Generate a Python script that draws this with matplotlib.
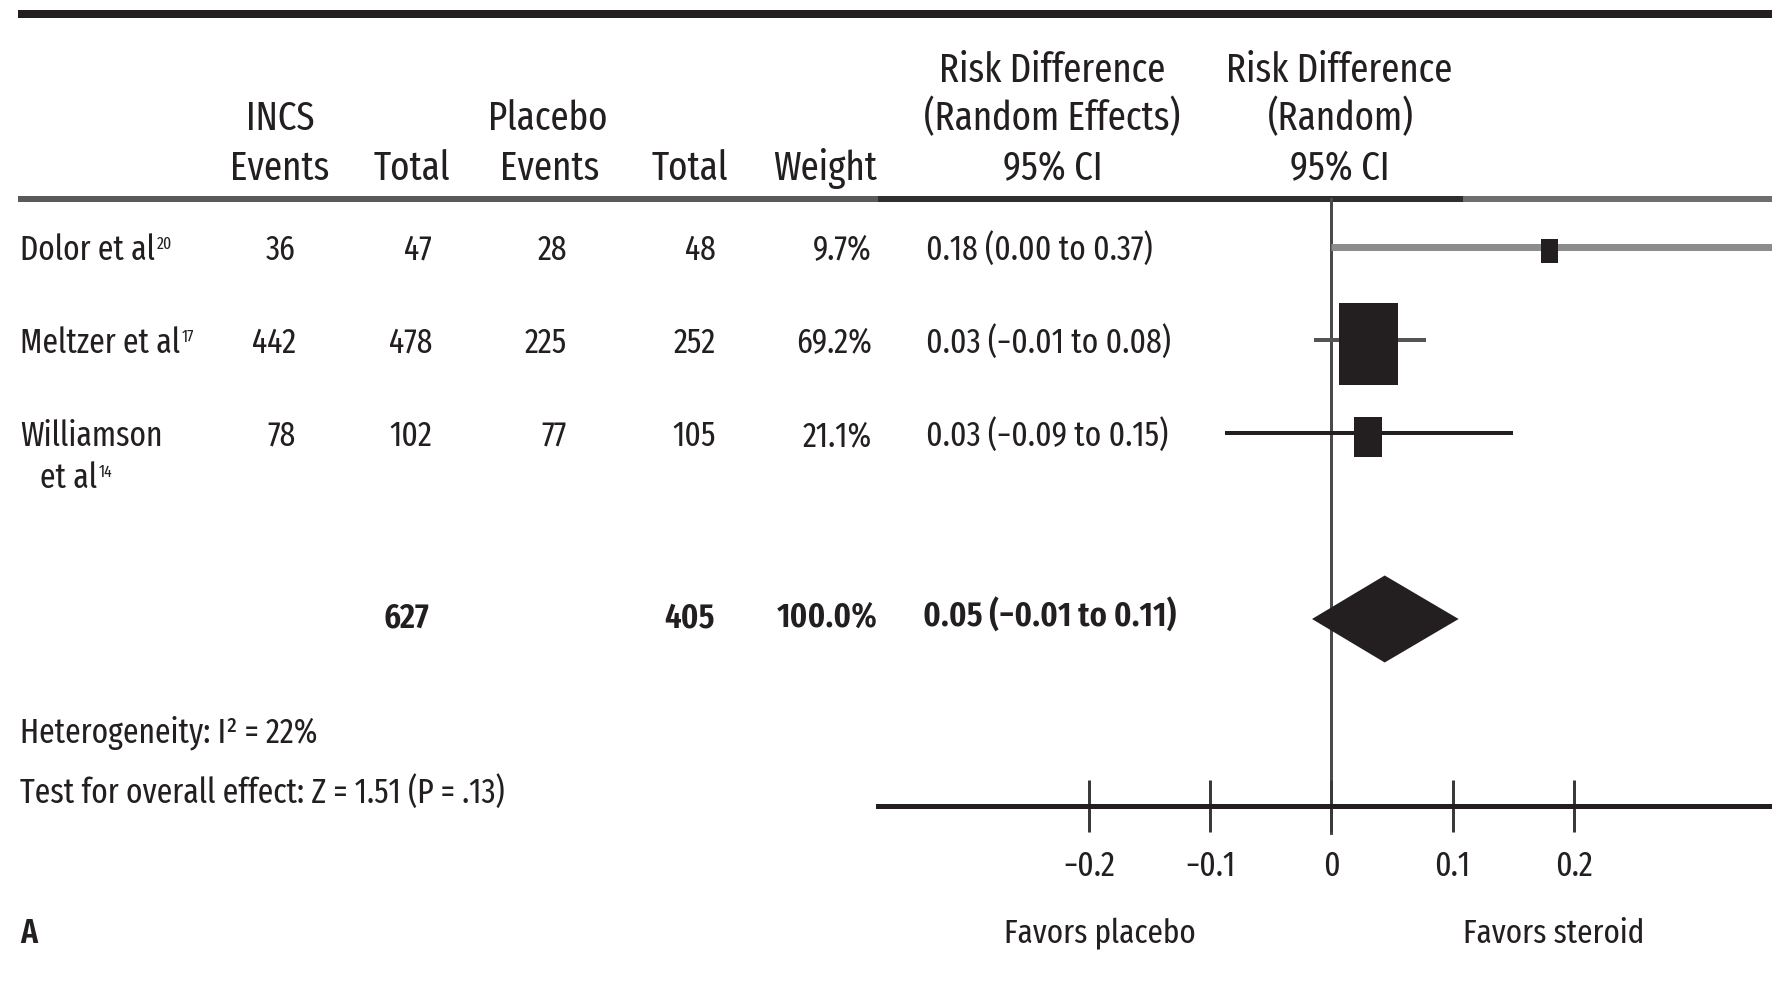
import matplotlib
matplotlib.use("Agg")
import matplotlib.pyplot as plt
from matplotlib.patches import Rectangle, Polygon
from matplotlib import font_manager

# ---------------- data ----------------
study_names = ["Dolor et al", "Meltzer et al", "Williamson"]
study_name_line2 = ["", "", "et al"]
study_refs = ["20", "17", "14"]
incs_events = [36, 442, 78]
incs_total = [47, 478, 102]
placebo_events = [28, 225, 77]
placebo_total = [48, 252, 105]
weights = [9.7, 69.2, 21.1]
rd = [0.18, 0.031, 0.03]
rd_low = [0.00, -0.014, -0.088]
rd_high = [0.37, 0.078, 0.15]
rd_labels = ["0.18 (0.00 to 0.37)", "0.03 (\u22120.01 to 0.08)", "0.03 (\u22120.09 to 0.15)"]
total_incs = 627
total_placebo = 405
total_weight = 100.0
pooled_rd = 0.044
pooled_low = -0.016
pooled_high = 0.105
pooled_label = "0.05 (\u22120.01 to 0.11)"
heterogeneity = "Heterogeneity: I\u00b2 = 22%"
overall_effect = "Test for overall effect: Z = 1.51 (P = .13)"
xticks = [-0.2, -0.1, 0, 0.1, 0.2]
xtick_labels = ["\u22120.2", "\u22120.1", "0", "0.1", "0.2"]
favors_left = "Favors placebo"
favors_right = "Favors steroid"
panel_label = "A"

# ---------------- fonts ----------------
avail = {f.name for f in font_manager.fontManager.ttflist}
base = "DejaVu Sans"
for cand in ["Fira Sans Extra Condensed", "Fira Sans Condensed", "Roboto Condensed",
             "Encode Sans Condensed", "Archivo Narrow", "Liberation Sans Narrow"]:
    if cand in avail:
        base = cand
        break
plt.rcParams["font.family"] = [base, "DejaVu Sans"]

DARK = "#231f20"
W, H = 1772, 987
PT = 0.72  # points per pixel at dpi=100

fig = plt.figure(figsize=(W / 100, H / 100), dpi=100)
renderer = fig.canvas.get_renderer()

def calibrate(s, target_px, weight="normal"):
    t = fig.text(0, 0, s, fontsize=30, fontweight=weight)
    w = t.get_window_extent(renderer).width
    t.remove()
    return 30 * target_px / w

LW = "normal"
BODY = (calibrate("0.18 (0.00 to 0.37)", 224, LW) + calibrate(overall_effect, 491, LW)
        + calibrate(heterogeneity, 296, LW)) / 3
HEAD = (calibrate("(Random Effects)", 254) + calibrate("Risk Difference", 224)
        + calibrate("Weight", 106)) / 3
FAV = (calibrate(favors_left, 191) + calibrate(favors_right, 182)) / 2
BOLD = (calibrate(pooled_label, 255, "semibold") + calibrate("100.0%", 100, "semibold")) / 2

bg = fig.add_axes([0, 0, 1, 1])
bg.set_xlim(0, W)
bg.set_ylim(H, 0)
bg.axis("off")

# forest axes (data coords: risk difference / row index)
X0 = 1331.4      # pixel position of 0
PX = 1211.5      # pixels per unit
AX_L = 878
ROW0, ROWH = 248, 93
ax = fig.add_axes([AX_L / W, 0, (W - AX_L) / W, 1])
ax.patch.set_visible(False)
ax.set_xlim((AX_L - X0) / PX, (W - X0) / PX)
ax.set_ylim((H - ROW0) / ROWH, -ROW0 / ROWH)

def py(px):
    return (px - ROW0) / ROWH

# rules
bg.plot([18, W], [15, 15], color=DARK, lw=8 * PT, solid_capstyle="butt")
bg.plot([18, AX_L], [200, 200], color="#5a5a5a", lw=6 * PT, solid_capstyle="butt")
bg.plot([AX_L, 1463], [200, 200], color="#2e2e2e", lw=6 * PT, solid_capstyle="butt")
bg.plot([1463, W], [200, 200], color="#6e6e6e", lw=6 * PT, solid_capstyle="butt")

# headers
hdr = dict(fontsize=HEAD, ha="center", va="baseline", color=DARK)
bg.text(280, 130, "INCS", **hdr)
bg.text(280, 180, "Events", **hdr)
bg.text(412, 180, "Total", **hdr)
bg.text(548, 130, "Placebo", **hdr)
bg.text(550, 180, "Events", **hdr)
bg.text(690, 180, "Total", **hdr)
bg.text(825, 180, "Weight", **hdr)
bg.text(1052, 82, "Risk Difference", **hdr)
bg.text(1052, 130, "(Random Effects)", **hdr)
bg.text(1053, 180, "95% CI", **hdr)
bg.text(1339, 82, "Risk Difference", **hdr)
bg.text(1341, 130, "(Random)", **hdr)
bg.text(1340, 180, "95% CI", **hdr)

# rows of the table
body = dict(fontsize=BODY, va="baseline", color=DARK, fontweight=LW)
col_right = [296, 432, 567, 716, 872]
for i in range(len(study_names)):
    yb = ROW0 + ROWH * i + 12
    name_txt = bg.text(20, yb, study_names[i], ha="left", **body)
    if study_name_line2[i]:
        name_txt = bg.text(40, yb + 42, study_name_line2[i], ha="left", **body)
    bg.annotate(study_refs[i], xy=(1.0, 0.9), xycoords=name_txt,
                xytext=(1, 0), textcoords="offset points",
                ha="left", va="top", fontsize=BODY * 0.5, color=DARK)
    vals = [str(incs_events[i]), str(incs_total[i]), str(placebo_events[i]),
            str(placebo_total[i]), f"{weights[i]:.1f}%"]
    for xr, v in zip(col_right, vals):
        bg.text(xr, yb, v, ha="right", **body)
    bg.text(926, yb, rd_labels[i], ha="left", **body)

# summary row
ys = ROW0 + ROWH * 4 + 7
bold = dict(body, fontweight="semibold", fontsize=BOLD)
bg.text(429, ys, str(total_incs), ha="right", **bold)
bg.text(715, ys, str(total_placebo), ha="right", **bold)
bg.text(878, ys, f"{total_weight:.1f}%", ha="right", **bold)
bg.text(923, ys, pooled_label, ha="left", **bold)

bg.text(20, 743, heterogeneity, ha="left", **body)
bg.text(20, 803, overall_effect, ha="left", **body)
bg.text(20, 943, panel_label, ha="left", **dict(body, fontweight="semibold"))
fav = dict(body, fontsize=FAV, fontweight="normal")
bg.text(1100, 943, favors_left, ha="center", **fav)
bg.text(1554, 943, favors_right, ha="center", **fav)

# ---------------- forest plot ----------------
ax.plot([0, 0], [py(200), py(834)], color="#4a4a4a", lw=3 * PT, zorder=1)

ci_colors = ["#8c8c8c", "#555555", DARK]
ci_widths = [7, 4, 4]
for i in range(len(rd)):
    ax.plot([rd_low[i], rd_high[i]], [i, i], color=ci_colors[i],
            lw=ci_widths[i] * PT, solid_capstyle="butt", zorder=2)
    h_px = 5.8 * weights[i] ** 0.625
    w_px = 0.72 * h_px
    hh = h_px / 2 / ROWH
    hw = w_px / 2 / PX
    yc = i + 4 / ROWH
    ax.add_patch(Rectangle((rd[i] - hw, yc - hh), 2 * hw, 2 * hh,
                           facecolor=DARK, edgecolor="none", zorder=3))

ysum = 4
dh = 43.5 / ROWH
ax.add_patch(Polygon([(pooled_low, ysum), (pooled_rd, ysum - dh),
                      (pooled_high, ysum), (pooled_rd, ysum + dh)],
                     closed=True, facecolor=DARK, edgecolor="none", zorder=3))

for s in ["top", "left", "right"]:
    ax.spines[s].set_visible(False)
ax.spines["bottom"].set_position(("data", py(807)))
ax.spines["bottom"].set_linewidth(5 * PT)
ax.spines["bottom"].set_color(DARK)
ax.set_yticks([])
ax.set_xticks(xticks)
ax.set_xticklabels(xtick_labels, fontweight=LW)
ax.tick_params(axis="x", direction="inout", length=53 * PT, width=3 * PT,
               color="#3a3a3a", labelsize=BODY, labelcolor=DARK, pad=11)

fig.savefig("out.png", dpi=100)
